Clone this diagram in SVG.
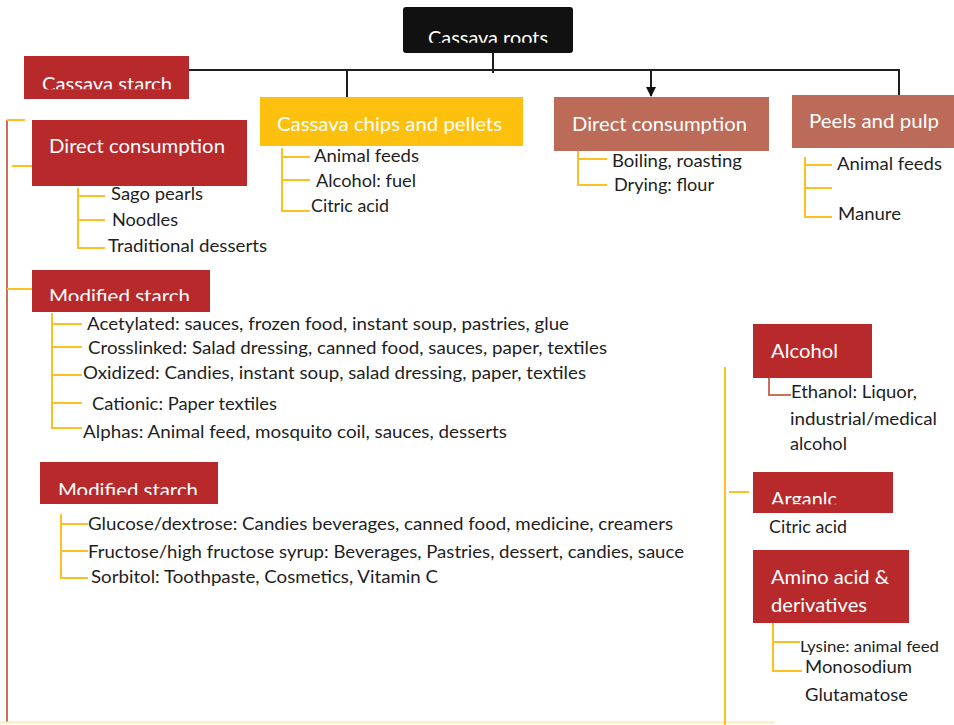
<svg xmlns="http://www.w3.org/2000/svg" width="954" height="725" viewBox="0 0 954 725">
  <style>
    .red { fill: #B8292B; }
    .gold { fill: #FEC00F; }
    .salmon { fill: #BC6B58; }
    .root { fill: #111111; }
    .hd { font-family: Lato, "Open Sans", sans-serif; font-size: 20px; fill: #FFFFFF; }
    .bd { font-family: Lato, "Open Sans", sans-serif; font-size: 18px; fill: #1E1E1E; }
    .sm { font-family: Lato, "Open Sans", sans-serif; font-size: 16px; fill: #1E1E1E; }
    .trunk { stroke: #1E1E1E; stroke-width: 2; fill: none; }
    .br { stroke: #FDBF22; stroke-width: 2; fill: none; }
    .brown { stroke: #C8705A; stroke-width: 2; fill: none; }
  </style>
  <defs>
    <marker id="arrow" markerWidth="10" markerHeight="10" refX="9" refY="5" orient="auto" markerUnits="userSpaceOnUse">
      <path d="M0,0 L10,5 L0,10 Z" fill="#111111"/>
    </marker>
    <clipPath id="clipRoot"><rect x="400" y="0" width="180" height="42.8"/></clipPath>
    <clipPath id="clipStarch"><rect x="20" y="50" width="180" height="39.3"/></clipPath>
    <clipPath id="clipMod1"><rect x="30" y="265" width="190" height="36"/></clipPath>
    <clipPath id="clipMod2"><rect x="38" y="455" width="190" height="40"/></clipPath>
    <clipPath id="clipArg"><rect x="750" y="470" width="150" height="34.3"/></clipPath>
  </defs>

  <rect width="954" height="725" fill="#FFFFFF"/>

  <!-- connectors -->
  <g id="connectors">
    <!-- main tree -->
    <path class="trunk" d="M493,53 V73"/>
    <path class="trunk" d="M189,70 H899 V95"/>
    <path class="trunk" d="M347,70 V97"/>
    <path class="trunk" d="M651,70 V96" marker-end="url(#arrow)"/>
    <!-- left spine -->
    <path class="brown" d="M7,120 V722"/>
    <path class="br" d="M7,120 H25"/>
    <path class="br" d="M12,166 H32"/>
    <path class="br" d="M7,289 H32"/>
    <!-- faint base line -->
    <path d="M0,722.5 H775" stroke="#FCEBC2" stroke-width="2"/>
    <!-- right spine -->
    <path class="br" d="M725,367 V725"/>
    <path class="br" d="M729,492 H749"/>
    <!-- chips children -->
    <path class="br" d="M282,148 V211 H310 M282,157 H310 M282,180 H310"/>
    <!-- mid direct consumption children -->
    <path class="br" d="M578,146 V185 H607 M578,159 H607"/>
    <!-- peels children -->
    <path class="br" d="M805,157 V217 H832 M805,165 H832 M805,188 H832"/>
    <!-- left direct consumption children -->
    <path class="br" d="M78,188 V248 H105 M78,196 H105 M78,220 H105"/>
    <!-- modified starch children -->
    <path class="br" d="M52,313 V428 H82 M52,324 H82 M52,347 H82 M52,375 H82 M52,403 H82"/>
    <!-- second modified starch children -->
    <path class="br" d="M61,514 V578 H88 M61,524 H88 M61,551 H88"/>
    <!-- alcohol child -->
    <path class="brown" d="M769,378 V395 H791"/>
    <!-- amino acid children -->
    <path class="br" d="M773,623 V671 H802 M773,642 H800"/>
  </g>

  <g id="cassava-roots">
    <rect class="root" x="403" y="7" width="170" height="46" rx="3"/>
    <text class="hd" x="428" y="45" textLength="120" lengthAdjust="spacingAndGlyphs" clip-path="url(#clipRoot)">Cassava roots</text>
  </g>

  <g id="cassava-starch">
    <rect class="red" x="24" y="56" width="165" height="43"/>
    <text class="hd" x="42" y="90.5" textLength="130" lengthAdjust="spacingAndGlyphs" clip-path="url(#clipStarch)">Cassava starch</text>
  </g>

  <g id="chips-pellets">
    <rect class="gold" x="260" y="97" width="263" height="49"/>
    <text class="hd" x="277" y="131" textLength="225" lengthAdjust="spacingAndGlyphs">Cassava chips and pellets</text>
    <text class="bd" x="314" y="162" textLength="105" lengthAdjust="spacingAndGlyphs">Animal feeds</text>
    <text class="bd" x="316" y="187" textLength="100" lengthAdjust="spacingAndGlyphs">Alcohol: fuel</text>
    <text class="bd" x="311" y="212" textLength="78" lengthAdjust="spacingAndGlyphs">Citric acid</text>
  </g>

  <g id="direct-consumption-roots">
    <rect class="salmon" x="554" y="97" width="215" height="54"/>
    <text class="hd" x="572" y="131" textLength="175" lengthAdjust="spacingAndGlyphs">Direct consumption</text>
    <text class="bd" x="612" y="167" textLength="130" lengthAdjust="spacingAndGlyphs">Boiling, roasting</text>
    <text class="bd" x="614" y="191" textLength="100" lengthAdjust="spacingAndGlyphs">Drying: flour</text>
  </g>

  <g id="peels-pulp">
    <rect class="salmon" x="792" y="95" width="164" height="53"/>
    <text class="hd" x="809" y="128" textLength="130" lengthAdjust="spacingAndGlyphs">Peels and pulp</text>
    <text class="bd" x="837" y="170" textLength="105" lengthAdjust="spacingAndGlyphs">Animal feeds</text>
    <text class="bd" x="838" y="220" textLength="63" lengthAdjust="spacingAndGlyphs">Manure</text>
  </g>

  <g id="direct-consumption-starch">
    <rect class="red" x="32" y="120" width="215" height="66"/>
    <text class="hd" x="49" y="153" textLength="176" lengthAdjust="spacingAndGlyphs">Direct consumption</text>
    <text class="bd" x="111" y="200" textLength="92" lengthAdjust="spacingAndGlyphs">Sago pearls</text>
    <text class="bd" x="112" y="226" textLength="66" lengthAdjust="spacingAndGlyphs">Noodles</text>
    <text class="bd" x="108" y="252" textLength="159" lengthAdjust="spacingAndGlyphs">Traditional desserts</text>
  </g>

  <g id="modified-starch">
    <rect class="red" x="32" y="270" width="178" height="42"/>
    <text class="hd" x="49" y="303" textLength="141" lengthAdjust="spacingAndGlyphs" clip-path="url(#clipMod1)">Modified starch</text>
    <text class="bd" x="87" y="330" textLength="482" lengthAdjust="spacingAndGlyphs">Acetylated: sauces, frozen food, instant soup, pastries, glue</text>
    <text class="bd" x="88" y="354" textLength="519" lengthAdjust="spacingAndGlyphs">Crosslinked: Salad dressing, canned food, sauces, paper, textiles</text>
    <text class="bd" x="83" y="379" textLength="503" lengthAdjust="spacingAndGlyphs">Oxidized: Candies, instant soup, salad dressing, paper, textiles</text>
    <text class="bd" x="92" y="410" textLength="185" lengthAdjust="spacingAndGlyphs">Cationic: Paper textiles</text>
    <text class="bd" x="83" y="438" textLength="424" lengthAdjust="spacingAndGlyphs">Alphas: Animal feed, mosquito coil, sauces, desserts</text>
  </g>

  <g id="modified-starch-sweeteners">
    <rect class="red" x="40" y="462" width="178" height="42"/>
    <text class="hd" x="58" y="497" textLength="140" lengthAdjust="spacingAndGlyphs" clip-path="url(#clipMod2)">Modified starch</text>
    <text class="bd" x="88" y="530" textLength="585" lengthAdjust="spacingAndGlyphs">Glucose/dextrose: Candies beverages, canned food, medicine, creamers</text>
    <text class="bd" x="88" y="558" textLength="596" lengthAdjust="spacingAndGlyphs">Fructose/high fructose syrup: Beverages, Pastries, dessert, candies, sauce</text>
    <text class="bd" x="91" y="583" textLength="347" lengthAdjust="spacingAndGlyphs">Sorbitol: Toothpaste, Cosmetics, Vitamin C</text>
  </g>

  <g id="alcohol">
    <rect class="red" x="753" y="324" width="119" height="54"/>
    <text class="hd" x="771" y="358" textLength="67" lengthAdjust="spacingAndGlyphs">Alcohol</text>
    <text class="bd" x="791" y="398" textLength="126" lengthAdjust="spacingAndGlyphs">Ethanol: Liquor,</text>
    <text class="bd" x="790" y="425" textLength="147" lengthAdjust="spacingAndGlyphs">industrial/medical</text>
    <text class="bd" x="790" y="450" textLength="57" lengthAdjust="spacingAndGlyphs">alcohol</text>
  </g>

  <g id="organic-acid">
    <rect class="red" x="753" y="472" width="140" height="41"/>
    <text class="hd" x="771" y="506" textLength="66" lengthAdjust="spacingAndGlyphs" clip-path="url(#clipArg)">Arganlc</text>
    <text class="bd" x="769" y="533" textLength="78" lengthAdjust="spacingAndGlyphs">Citric acid</text>
  </g>

  <g id="amino-acid">
    <rect class="red" x="753" y="550" width="156" height="73"/>
    <text class="hd" x="771" y="584" textLength="118" lengthAdjust="spacingAndGlyphs">Amino acid &amp;</text>
    <text class="hd" x="771" y="612" textLength="96" lengthAdjust="spacingAndGlyphs">derivatives</text>
    <text class="sm" x="800" y="652" textLength="139" lengthAdjust="spacingAndGlyphs">Lysine: animal feed</text>
    <text class="bd" x="805" y="673" textLength="107" lengthAdjust="spacingAndGlyphs">Monosodium</text>
    <text class="bd" x="805" y="701" textLength="103" lengthAdjust="spacingAndGlyphs">Glutamatose</text>
  </g>
</svg>
